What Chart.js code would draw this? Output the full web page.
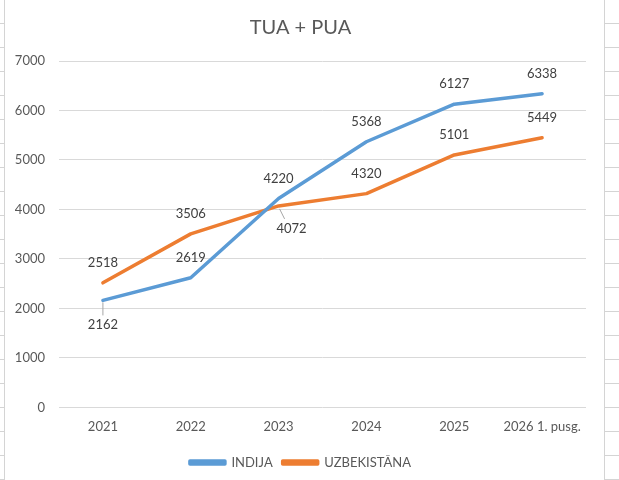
<!DOCTYPE html>
<html>
<head>
<meta charset="utf-8">
<script src="https://cdn.jsdelivr.net/npm/chart.js@4"></script>
<style>
    html, body { margin: 0; padding: 0; background: #fff; }
    body { width: 619px; height: 480px; position: relative; overflow: hidden; }
    .sheet-left, .sheet-right {
        position: absolute; top: 0; height: 480px;
        background-image: repeating-linear-gradient(to bottom, transparent 0, transparent 23px, #d4d4d4 23px, #d4d4d4 24px);
    }
    .sheet-left { left: 0; width: 4px; border-right: 1px solid #d4d4d4; }
    .sheet-right { left: 604px; width: 15px; border-left: 1px solid #d4d4d4; }
    #wrap { position: absolute; left: 5px; top: 0; width: 599px; height: 480px; background: #fff; }
</style>
</head>
<body>
<div class="sheet-left"></div>
<div class="sheet-right"></div>
<div id="wrap"><canvas id="chart"></canvas></div>
<script>
// Chart values
const categories = ['2021', '2022', '2023', '2024', '2025', '2026 1. pusg.'];
const indija = [2162, 2619, 4220, 5368, 6127, 6338];
const uzbekistana = [2518, 3506, 4072, 4320, 5101, 5449];
const yTicks = [0, 1000, 2000, 3000, 4000, 5000, 6000, 7000];

// Where each data label sits relative to its point
const indijaLabelPos = ['below', 'above', 'above', 'above', 'above', 'above'];
const uzbekLabelPos = ['above', 'above', 'belowRight', 'above', 'above', 'above'];

const FONT = 'Lato, "Liberation Sans", sans-serif';

// Draw value labels like Excel data labels, with a leader line when below
const valueLabels = {
    id: 'valueLabels',
    afterDatasetsDraw(chart) {
        const ctx = chart.ctx;
        ctx.save();
        ctx.font = '13px ' + FONT;
        ctx.textAlign = 'center';
        ctx.textBaseline = 'middle';
        chart.data.datasets.forEach((ds, di) => {
            const meta = chart.getDatasetMeta(di);
            meta.data.forEach((pt, i) => {
                const pos = ds.labelPos[i];
                let lx = pt.x, ly = pt.y - 20;
                if (pos === 'below') {
                    ly = pt.y + 24;
                    ctx.strokeStyle = '#a6a6a6';
                    ctx.lineWidth = 1;
                    ctx.beginPath();
                    ctx.moveTo(pt.x, pt.y + 2);
                    ctx.lineTo(pt.x, ly - 9);
                    ctx.stroke();
                } else if (pos === 'belowRight') {
                    lx = pt.x + 13;
                    ly = pt.y + 23;
                    ctx.strokeStyle = '#a6a6a6';
                    ctx.lineWidth = 1;
                    ctx.beginPath();
                    ctx.moveTo(pt.x + 1, pt.y + 3);
                    ctx.lineTo(pt.x + 6, ly - 10);
                    ctx.stroke();
                }
                ctx.fillStyle = '#404040';
                ctx.fillText(String(ds.data[i]), lx, ly);
            });
        });
        ctx.restore();
    }
};

new Chart(document.getElementById('chart'), {
    type: 'line',
    data: {
        labels: categories,
        datasets: [
            {
                label: 'INDIJA',
                data: indija,
                labelPos: indijaLabelPos,
                borderColor: '#5B9BD5',
                backgroundColor: '#5B9BD5',
                borderWidth: 3.5,
                borderJoinStyle: 'round',
                borderCapStyle: 'round',
                pointRadius: 0,
                tension: 0
            },
            {
                label: 'UZBEKISTĀNA',
                data: uzbekistana,
                labelPos: uzbekLabelPos,
                borderColor: '#ED7D31',
                backgroundColor: '#ED7D31',
                borderWidth: 3.5,
                borderJoinStyle: 'round',
                borderCapStyle: 'round',
                pointRadius: 0,
                tension: 0
            }
        ]
    },
    options: {
        responsive: true,
        maintainAspectRatio: false,
        animation: false,
        layout: { padding: { left: 10, right: 18, top: 0, bottom: 1 } },
        plugins: {
            title: {
                display: true,
                text: 'TUA + PUA',
                color: '#595959',
                font: { family: FONT, size: 20, weight: 'normal' },
                padding: { top: 16, bottom: 21 }
            },
            legend: {
                position: 'bottom',
                labels: {
                    color: '#595959',
                    font: { family: FONT, size: 13 },
                    boxWidth: 35,
                    boxHeight: 3,
                    padding: 10
                }
            },
            tooltip: { enabled: false }
        },
        scales: {
            x: {
                offset: true,
                grid: { display: false },
                border: { display: false },
                afterFit: (axis) => { axis.height += 7; },
                ticks: { color: '#595959', font: { family: FONT, size: 13 }, padding: 4, maxRotation: 0 }
            },
            y: {
                min: 0,
                max: 7000,
                afterBuildTicks: (axis) => { axis.ticks = yTicks.map(v => ({ value: v })); },
                afterFit: (axis) => { axis.width = 44; },
                grid: { color: '#d9d9d9', lineWidth: 1, drawTicks: false },
                border: { display: false },
                ticks: {
                    color: '#595959',
                    font: { family: FONT, size: 13 },
                    padding: 14,
                    callback: (v) => String(v)
                }
            }
        }
    },
    plugins: [valueLabels]
});
</script>
</body>
</html>
